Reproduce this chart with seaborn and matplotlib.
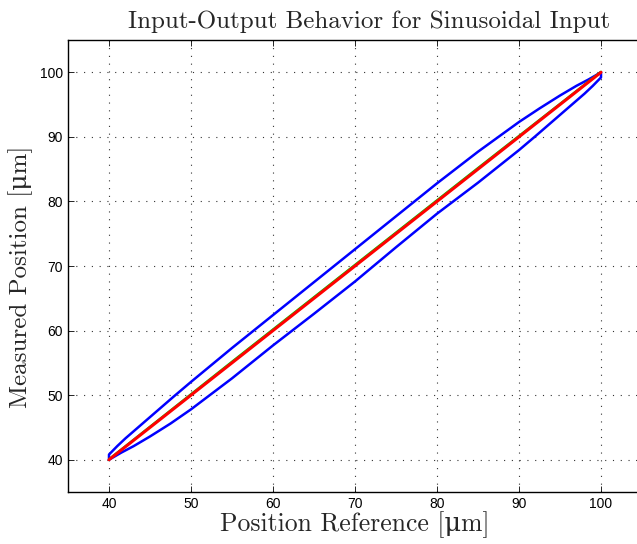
import matplotlib
matplotlib.use("Agg")
import matplotlib.pyplot as plt
import numpy as np
import pandas as pd
import seaborn as sns

# Hysteresis loop: measured position vs. position reference (µm)
ref_up = [40.0, 40.0, 41.0, 42.0, 43.0, 44.0, 46.0, 48.0, 50.0, 55.0, 60.0,
          65.0, 70.0, 75.0, 80.0, 85.0, 90.0, 92.5, 95.0, 97.0, 98.5, 100.0]
meas_up = [40.0, 40.8, 42.1, 43.3, 44.4, 45.5, 47.7, 49.9, 52.05, 57.3, 62.4,
           67.5, 72.6, 77.7, 82.8, 87.7, 92.3, 94.4, 96.4, 97.9, 98.9, 100.0]
ref_down = [100.0, 100.0, 99.0, 98.0, 97.0, 96.0, 94.0, 92.0, 90.0, 85.0,
            80.0, 75.0, 70.0, 65.0, 60.0, 55.0, 50.0, 47.5, 45.0, 43.0, 41.5,
            40.0]
meas_down = [100.0, 99.2, 97.9, 96.7, 95.6, 94.5, 92.3, 90.1, 87.95, 82.9,
             78.1, 72.9, 67.6, 62.6, 57.7, 52.6, 47.8, 45.6, 43.6, 42.1, 41.1,
             40.0]

# Model response and ideal reference line
model_ref = [40.0, 55.0, 70.0, 85.0, 100.0]
model_meas = [40.1, 55.2, 70.2, 85.2, 100.1]
ideal_ref = [40.0, 100.0]
ideal_meas = [40.0, 100.0]

sns.set_style("ticks")
plt.rcParams["font.family"] = ["Liberation Sans", "DejaVu Sans"]
serif = ["cmr10", "DejaVu Serif"]

fig = plt.figure(figsize=(6.37, 5.44), dpi=100)
W, H = 637, 544
ax = fig.add_axes([68 / W, (H - 492) / H, 574 / W, 452 / H])

loop = pd.DataFrame({"ref": ref_up + ref_down, "meas": meas_up + meas_down})
sns.lineplot(data=loop, x="ref", y="meas", sort=False, estimator=None,
             color="#0000ff", linewidth=1.8, ax=ax)
sns.lineplot(x=model_ref, y=model_meas, sort=False, estimator=None,
             color="#00cc00", linewidth=1.5, ax=ax)
sns.lineplot(x=ideal_ref, y=ideal_meas, sort=False, estimator=None,
             color="#ff0000", linewidth=2.2, ax=ax)

ax.set_xlim(35, 105)
ax.set_ylim(35, 105)
ticks = [40, 50, 60, 70, 80, 90, 100]
ax.set_xticks(ticks)
ax.set_yticks(ticks)
ax.tick_params(direction="in", length=4, width=0.6, labelsize=10,
               top=True, right=True, colors="black")
ax.grid(True, linestyle=(0, (1, 6)), color="#333333", linewidth=0.8)
for s in ax.spines.values():
    s.set_linewidth(1.0)
    s.set_color("black")
ax.set_xlabel("")
ax.set_ylabel("")

fig.text(369 / W, 1 - 28 / H, "Input-Output Behavior for Sinusoidal Input",
         family=serif, fontsize=18, ha="center", va="baseline")
fig.text(355 / W, 1 - 525 / H, "Position Reference [\u03bcm]",
         family=serif, fontsize=18.5, ha="center", va="center")
fig.text(21 / W, 1 - 276.5 / H, "Measured Position [\u03bcm]",
         family=serif, fontsize=18, ha="center", va="center",
         rotation=90)

fig.savefig("out.png", dpi=100)
